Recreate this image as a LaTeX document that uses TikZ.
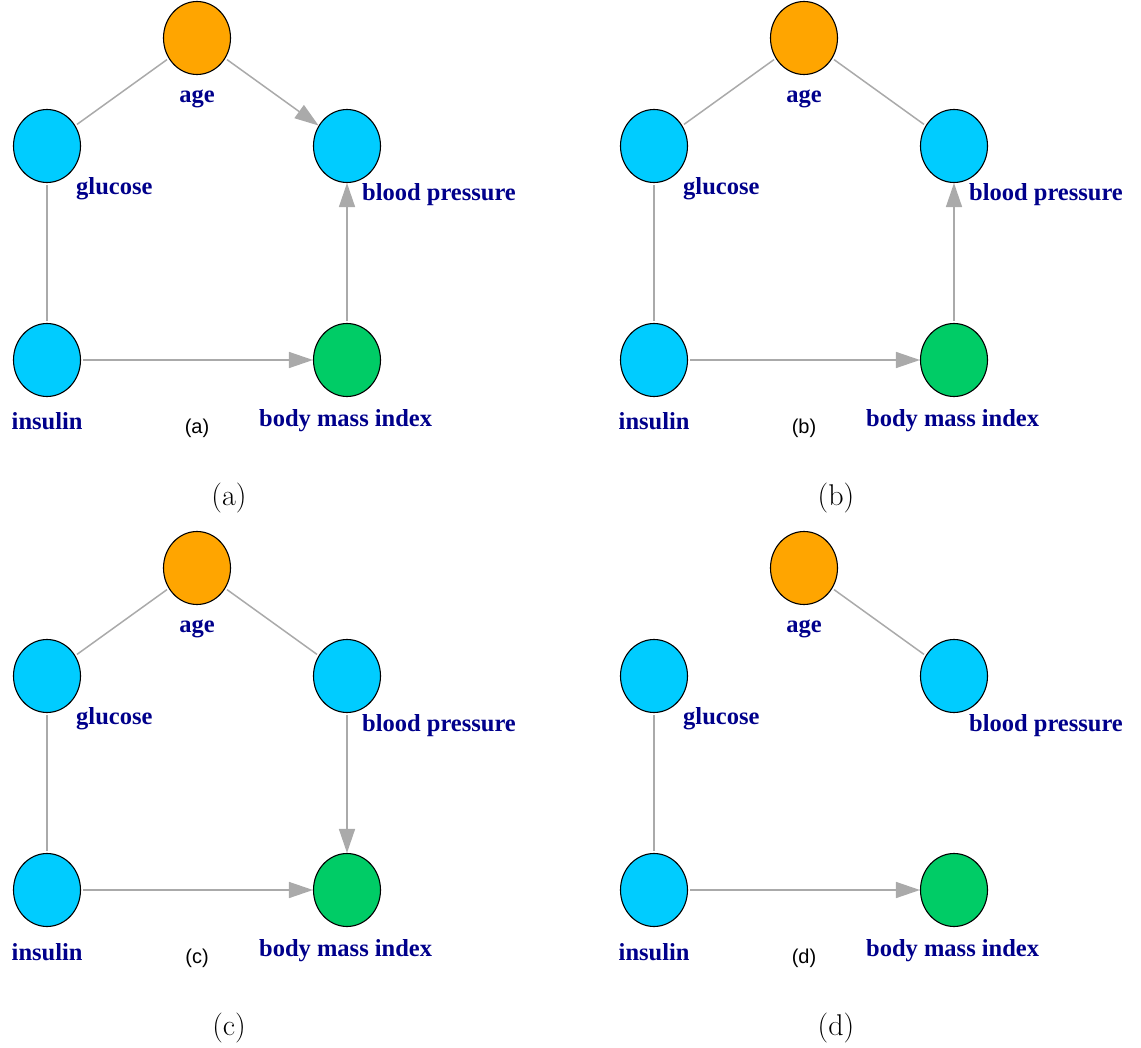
\documentclass[tikz,border=0pt]{standalone}
\usepackage{fontspec}
\newfontfamily\labfont{Liberation Serif}
\newfontfamily\smallfont{Liberation Sans}
\usetikzlibrary{arrows.meta,shapes.geometric}
\definecolor{orangec}{RGB}{255,165,0}
\definecolor{cyanc}{RGB}{0,204,255}
\definecolor{greenc}{RGB}{0,204,102}
\definecolor{navyc}{RGB}{0,0,139}
\definecolor{edgegray}{RGB}{170,170,170}
\tikzset{
  vnode/.style={ellipse, draw=black, line width=1.1pt, minimum width=67pt, minimum height=73pt, inner sep=0pt},
  vlab/.style={text=navyc, font=\labfont\bfseries\fontsize{24.5}{28}\selectfont, inner sep=0pt},
  subcap/.style={font=\smallfont\fontsize{20}{23}\selectfont, inner sep=0pt},
  maincap/.style={font=\fontsize{30}{34}\selectfont, inner sep=0pt},
  uedge/.style={draw=edgegray, line width=1.5pt, shorten >=2pt, shorten <=2pt},
  dedge/.style={draw=edgegray, line width=1.5pt, shorten <=2pt, -{Triangle[length=24pt,width=16pt]}},
}
\newcommand\panelnodes[2]{%
  \node[vnode, fill=orangec] (age#1) at (197,38) {};
  \node[vnode, fill=cyanc] (glu#1) at (47,146) {};
  \node[vnode, fill=cyanc] (bp#1) at (347,146) {};
  \node[vnode, fill=cyanc] (ins#1) at (47,360) {};
  \node[vnode, fill=greenc] (bmi#1) at (347,360) {};
  \node[vlab, anchor=base] (agel#1) at (197,102.5) {age};
  \node[vlab, anchor=base west] (glul#1) at (76,194.5) {glucose};
  \node[vlab, anchor=base west] (bpl#1) at (362,201) {blood pressure};
  \node[vlab, anchor=base west] (insl#1) at (11.5,430) {insulin};
  \node[vlab, anchor=base west] (bmil#1) at (259,426.5) {body mass index};
  \node[subcap] (sub#1) at (197,428) {(#2)};
  \node[maincap] (cap#1) at (229,498) {(#2)};
}
\begin{document}
\begin{tikzpicture}[x=1pt,y=-1pt]
\useasboundingbox (0,0) rectangle (1141,1048);
% panel (a)
\begin{scope}
  \panelnodes{A}{a}
  \draw[uedge] (ageA) -- (gluA);
  \draw[dedge] (ageA) -- (bpA);
  \draw[uedge] (gluA) -- (insA);
  \draw[dedge] (insA) -- (bmiA);
  \draw[dedge] (bmiA) -- (bpA);
\end{scope}
% panel (b)
\begin{scope}[shift={(607,0)}]
  \panelnodes{B}{b}
  \draw[uedge] (ageB) -- (gluB);
  \draw[uedge] (ageB) -- (bpB);
  \draw[uedge] (gluB) -- (insB);
  \draw[dedge] (insB) -- (bmiB);
  \draw[dedge] (bmiB) -- (bpB);
\end{scope}
% panel (c)
\begin{scope}[shift={(0,530)}]
  \panelnodes{C}{c}
  \draw[uedge] (ageC) -- (gluC);
  \draw[uedge] (ageC) -- (bpC);
  \draw[uedge] (gluC) -- (insC);
  \draw[dedge] (insC) -- (bmiC);
  \draw[dedge] (bpC) -- (bmiC);
\end{scope}
% panel (d)
\begin{scope}[shift={(607,530)}]
  \panelnodes{D}{d}
  \draw[uedge] (ageD) -- (bpD);
  \draw[uedge] (gluD) -- (insD);
  \draw[dedge] (insD) -- (bmiD);
\end{scope}
\end{tikzpicture}
\end{document}
